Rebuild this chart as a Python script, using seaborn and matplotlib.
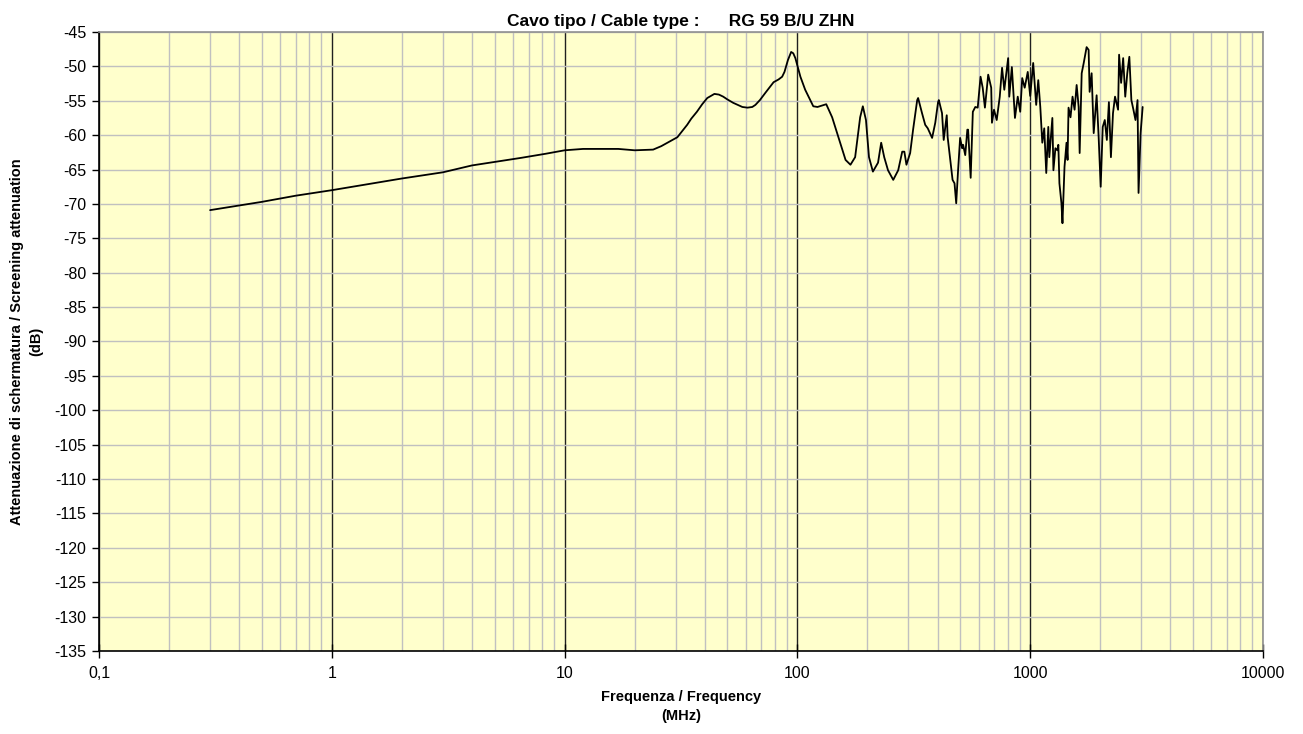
import numpy as np
import pandas as pd
import matplotlib
matplotlib.use("Agg")
import matplotlib.pyplot as plt
import seaborn as sns

# === data (frequency in MHz, attenuation in dB) ===
freq_smooth = [0.3, 0.5, 0.7, 1, 1.5, 2, 3, 4, 5, 6.5, 8.3, 10, 12, 17, 20, 24, 26, 28,
               30.5, 33.6, 35, 37, 39, 41, 44, 46, 48, 50, 53, 55.5, 58, 61, 64, 66, 69,
               73, 79, 83, 86, 88, 91, 94, 96, 98]
db_smooth = [-70.9, -69.7, -68.8, -68.0, -67.0, -66.3, -65.4, -64.4, -63.9, -63.3, -62.7,
             -62.2, -62.0, -62.0, -62.2, -62.1, -61.6, -61.0, -60.3, -58.5, -57.6, -56.6,
             -55.5, -54.6, -54.0, -54.1, -54.4, -54.8, -55.3, -55.6, -55.9, -56.0, -55.9,
             -55.6, -54.9, -53.8, -52.3, -51.9, -51.5, -50.8, -49.1, -47.9, -48.1, -48.8]

freq_mid = [103, 108, 117, 122, 133, 141, 150, 161, 169, 177, 186, 191, 197, 203, 211,
            222, 229, 236, 245, 258, 271, 282, 288, 294, 305, 314, 327, 330, 343, 354,
            363, 379, 391, 402, 405, 418, 425, 438, 442, 464, 473, 481, 490, 500, 510,
            515, 526, 537, 541, 555, 567, 581, 595, 612, 625, 639, 660, 680, 685, 699,
            718, 740, 757, 774, 804, 813, 834, 860, 884, 906, 924, 947, 976]
db_mid = [-51.5, -53.4, -55.8, -55.9, -55.5, -57.4, -60.3, -63.6, -64.3, -63.2, -57.4,
          -55.8, -57.8, -63.2, -65.3, -64.0, -61.1, -63.2, -65.1, -66.5, -65.1, -62.4,
          -62.4, -64.3, -62.6, -59.2, -54.9, -54.6, -56.8, -58.5, -59.0, -60.4, -58.2,
          -55.2, -54.9, -56.8, -60.7, -57.1, -60.3, -66.5, -67.0, -69.9, -65.1, -60.4,
          -61.9, -61.4, -62.9, -59.2, -59.2, -66.2, -56.6, -55.9, -56.0, -51.5, -53.1,
          -56.0, -51.2, -53.1, -58.2, -56.3, -57.8, -54.4, -50.2, -53.4, -48.8, -54.4,
          -50.1, -57.5, -54.4, -56.6, -51.7, -53.1, -50.8]

freq_high = [1000, 1030, 1061, 1083, 1105, 1127, 1149, 1172, 1196, 1208, 1245, 1258,
             1283, 1308, 1321, 1335, 1362, 1376, 1404, 1432, 1447, 1461, 1490, 1520,
             1551, 1583, 1615, 1631, 1664, 1698, 1747, 1782, 1800, 1836, 1874, 1929,
             1968, 2008, 2049, 2091, 2134, 2178, 2222, 2268, 2314, 2385, 2409, 2458,
             2508, 2560, 2612, 2666, 2720, 2776, 2833, 2891, 2920, 2980, 3041]
db_high = [-54.3, -49.5, -55.6, -52.0, -55.9, -61.1, -59.0, -65.5, -58.8, -63.2, -57.5,
           -65.1, -61.9, -62.2, -61.4, -67.0, -69.9, -72.8, -64.6, -61.1, -63.6, -56.0,
           -57.4, -54.4, -56.3, -52.7, -55.9, -62.6, -51.0, -49.5, -47.2, -47.6, -53.7,
           -51.0, -59.7, -54.2, -60.3, -67.5, -58.8, -57.8, -60.7, -55.2, -63.2, -56.8,
           -54.4, -56.3, -48.3, -52.4, -48.8, -54.4, -51.0, -48.6, -54.9, -56.3, -57.8,
           -54.9, -68.4, -59.7, -55.9]

x_ticks = [0.1, 1, 10, 100, 1000, 10000]
x_ticklabels = ["0,1", "1", "10", "100", "1000", "10000"]
y_ticks = list(range(-135, -44, 5))

df = pd.DataFrame({"freq": freq_smooth + freq_mid + freq_high,
                   "db": db_smooth + db_mid + db_high})

# === style ===
sns.set_style("white")
plt.rcParams["font.family"] = ["Liberation Sans", "DejaVu Sans"]
plt.rcParams["axes.unicode_minus"] = False
plt.rcParams["text.color"] = "black"
plt.rcParams["axes.labelcolor"] = "black"
plt.rcParams["xtick.color"] = "black"
plt.rcParams["ytick.color"] = "black"

fig = plt.figure(figsize=(13.03, 7.34), dpi=100)
ax = fig.add_axes([0.076, 0.1131, 0.8933, 0.8433])
ax.set_facecolor("#FFFFCC")

sns.lineplot(data=df, x="freq", y="db", sort=False, estimator=None,
             color="black", lw=1.3, ax=ax)

ax.set_xscale("log")
ax.set_xlim(0.1, 10000)
ax.set_ylim(-135, -45)

# grid: light gray minor decade lines, dark decade lines, gray horizontals
ax.xaxis.set_minor_locator(matplotlib.ticker.LogLocator(base=10, subs=np.arange(2, 10)))
ax.xaxis.set_minor_formatter(matplotlib.ticker.NullFormatter())
ax.grid(which="minor", axis="x", color="#C0C0C0", lw=1)
ax.grid(which="major", axis="x", color="#202020", lw=1)
ax.grid(which="major", axis="y", color="#C0C0C0", lw=1)
ax.set_axisbelow(True)

ax.set_xticks(x_ticks)
ax.set_xticklabels(x_ticklabels)
ax.set_yticks(y_ticks)
ax.tick_params(axis="y", which="major", direction="out", length=5, width=1,
               labelsize=11.5, pad=4, left=True)
ax.tick_params(axis="x", which="major", direction="inout", length=10, width=1,
               labelsize=11.5, pad=6, bottom=True)
ax.tick_params(axis="x", which="minor", length=0)

for side in ["left", "bottom"]:
    ax.spines[side].set_color("black")
    ax.spines[side].set_linewidth(1.2)
for side in ["top", "right"]:
    ax.spines[side].set_color("#909090")
    ax.spines[side].set_linewidth(1.2)

ax.set_title("Cavo tipo / Cable type :      RG 59 B/U ZHN",
             fontsize=12.5, fontweight="bold", pad=4)
ax.set_xlabel("Frequenza / Frequency\n(MHz)", fontsize=10.5, fontweight="bold",
              labelpad=6, linespacing=1.5)
ax.set_ylabel("Attenuazione di schermatura / Screening attenuation\n(dB)",
              fontsize=10.5, fontweight="bold", labelpad=8, linespacing=1.5)

fig.savefig("out.png", dpi=100)
